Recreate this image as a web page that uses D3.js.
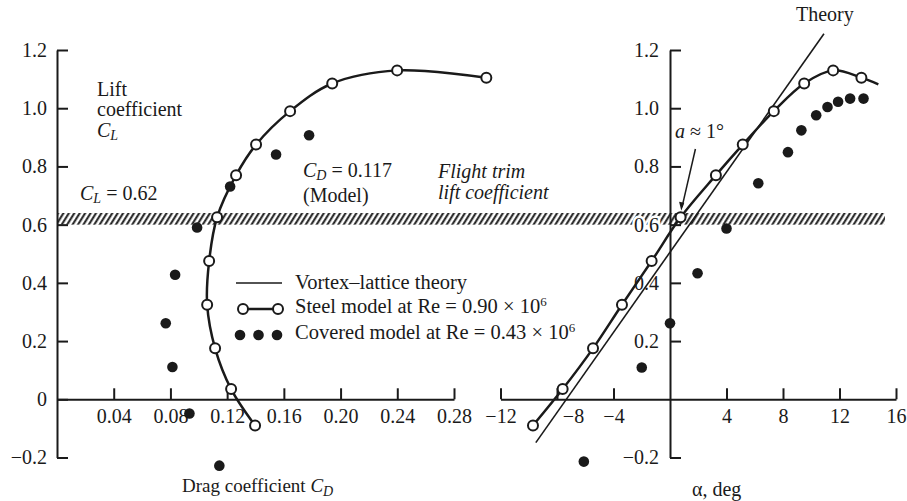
<!DOCTYPE html>
<html lang="en">
<head>
<meta charset="UTF-8">
<title>Lift and drag coefficients</title>
<script src="https://cdn.jsdelivr.net/npm/d3@7"></script>
<style>
  body { margin: 0; background: #fff; }
  svg text { font-family: "Liberation Serif", "DejaVu Serif", serif; fill: #1a1a1a; }
  .axis path, .axis line { stroke: #1a1a1a; stroke-width: 2; }
  .axis text { font-size: 20px; font-family: "Liberation Serif", serif; fill: #1a1a1a; }
</style>
</head>
<body>
<script>
// Steel model at Re = 0.90e6 (open circles)
var steelCL = [-0.09, 0.035, 0.175, 0.325, 0.475, 0.625, 0.77, 0.875, 0.99, 1.085, 1.13, 1.105];
var steelCD = [0.1397, 0.1228, 0.1115, 0.1059, 0.1073, 0.1129, 0.1263, 0.1404, 0.1644, 0.1941, 0.2399, 0.3028];
var steelAlpha = [-9.7, -7.6, -5.45, -3.4, -1.3, 0.75, 3.25, 5.15, 7.35, 9.5, 11.55, 13.55];
// curve continues a little past the last measured point (right panel)
var steelTail = [14.75, 1.082];

// Covered model at Re = 0.43e6 (filled dots)
var coverCD = [0.1145, 0.0934, 0.0814, 0.0767, 0.0833, 0.0988, 0.1221, 0.1545, 0.1778];
var coverCL_drag = [-0.228, -0.049, 0.111, 0.261, 0.428, 0.59, 0.731, 0.841, 0.907];
var coverAlpha = [-6.1, -2.0, 0, 1.95, 4.0, 6.25, 8.35, 9.3, 10.35, 11.15, 11.9, 12.75, 13.7];
var coverCL_alpha = [-0.214, 0.109, 0.261, 0.433, 0.587, 0.742, 0.849, 0.924, 0.976, 1.004, 1.022, 1.033, 1.033];

// Vortex-lattice theory line (right panel)
var theoryAlpha = [-9.5, 10.9];
var theoryCL = [-0.149, 1.256];

// axis ticks
var clTicks = [-0.2, 0, 0.2, 0.4, 0.6, 0.8, 1.0, 1.2];
var cdTicks = [0.04, 0.08, 0.12, 0.16, 0.20, 0.24, 0.28];
var alphaTicks = [-12, -8, -4, 4, 8, 12, 16];

// flight trim band
var trimBand = [0.60, 0.64];

var w = 907, h = 501;
var ink = "#1a1a1a";

var svg = d3.select("body").append("svg")
    .attr("width", w).attr("height", h);

// hatch pattern
svg.append("defs").append("pattern")
    .attr("id", "hatch")
    .attr("patternUnits", "userSpaceOnUse")
    .attr("width", 4.6).attr("height", 4.6)
    .attr("patternTransform", "rotate(32)")
    .append("line")
    .attr("x1", 1.2).attr("y1", 0).attr("x2", 1.2).attr("y2", 4.6)
    .attr("stroke", ink).attr("stroke-width", 2);

//Scales
var y = d3.scaleLinear().domain([-0.2, 1.2]).range([457.5, 50]);
var xCD = d3.scaleLinear().domain([0, 0.28]).range([57, 454]);
var xA = d3.scaleLinear().domain([-12, 16]).range([500.5, 896]);

function fmt(d) {
    return (d === 0 ? "0" : d.toFixed(1)).replace("-", "\u2212");
}

// hatch band, running across both panels
svg.append("rect")
    .attr("x", xCD(0))
    .attr("y", y(trimBand[1]))
    .attr("width", 885 - xCD(0))
    .attr("height", y(trimBand[0]) - y(trimBand[1]))
    .attr("fill", "url(#hatch)");

// ---------- left panel ----------
svg.append("g").attr("class", "axis")
    .attr("transform", "translate(" + xCD(0) + ",0)")
    .call(d3.axisLeft(y).tickValues(clTicks).tickSize(-11).tickSizeOuter(0).tickPadding(10)
        .tickFormat(fmt));

svg.append("g").attr("class", "axis")
    .attr("transform", "translate(0," + y(0) + ")")
    .call(d3.axisBottom(xCD).tickValues(cdTicks).tickSize(-11).tickSizeOuter(0).tickPadding(10)
        .tickFormat(d3.format(".2f")));

var lineCD = d3.line()
    .x(function(d) { return xCD(d[0]); })
    .y(function(d) { return y(d[1]); })
    .curve(d3.curveCatmullRom.alpha(0.5));

var steelDrag = steelCD.map(function(d, i) { return [d, steelCL[i]]; });
svg.append("path")
    .attr("d", lineCD(steelDrag))
    .attr("fill", "none").attr("stroke", ink).attr("stroke-width", 2.5);

svg.selectAll("circle.sd").data(steelDrag).enter().append("circle")
    .attr("class", "sd")
    .attr("cx", function(d) { return xCD(d[0]); })
    .attr("cy", function(d) { return y(d[1]); })
    .attr("r", 5)
    .attr("fill", "#fff").attr("stroke", ink).attr("stroke-width", 2);

svg.selectAll("circle.cd").data(coverCD).enter().append("circle")
    .attr("class", "cd")
    .attr("cx", function(d) { return xCD(d); })
    .attr("cy", function(d, i) { return y(coverCL_drag[i]); })
    .attr("r", 5.3)
    .attr("fill", ink);

// ---------- right panel ----------
var axR = svg.append("g").attr("class", "axis")
    .attr("transform", "translate(" + xA(0) + ",0)")
    .call(d3.axisLeft(y).tickValues(clTicks.filter(function(d) { return d !== 0; }))
        .tickSize(-11).tickSizeOuter(0).tickPadding(11)
        .tickFormat(fmt));
axR.selectAll("text")
    .attr("stroke", "#fff").attr("stroke-width", 5).attr("paint-order", "stroke");

var axA = svg.append("g").attr("class", "axis")
    .attr("transform", "translate(0," + y(0) + ")")
    .call(d3.axisBottom(xA).tickValues(alphaTicks).tickSize(-11).tickSizeOuter(0).tickPadding(10)
        .tickFormat(function(d) { return String(d).replace("-", "\u2212"); }));
axA.selectAll(".tick text").filter(function(d) { return d === -8; }).attr("dx", 16);

var lineA = d3.line()
    .x(function(d) { return xA(d[0]); })
    .y(function(d) { return y(d[1]); });

svg.append("path")
    .attr("d", lineA(theoryAlpha.map(function(d, i) { return [d, theoryCL[i]]; })))
    .attr("fill", "none").attr("stroke", ink).attr("stroke-width", 1.6);

var steelA = steelAlpha.map(function(d, i) { return [d, steelCL[i]]; });
svg.append("path")
    .attr("d", lineA.curve(d3.curveCatmullRom.alpha(0.5))(steelA.concat([steelTail])))
    .attr("fill", "none").attr("stroke", ink).attr("stroke-width", 2.5);

svg.selectAll("circle.sa").data(steelA).enter().append("circle")
    .attr("class", "sa")
    .attr("cx", function(d) { return xA(d[0]); })
    .attr("cy", function(d) { return y(d[1]); })
    .attr("r", 5)
    .attr("fill", "#fff").attr("stroke", ink).attr("stroke-width", 2);

svg.selectAll("circle.ca").data(coverAlpha).enter().append("circle")
    .attr("class", "ca")
    .attr("cx", function(d) { return xA(d); })
    .attr("cy", function(d, i) { return y(coverCL_alpha[i]); })
    .attr("r", 5.3)
    .attr("fill", ink);

// arrow for a ~ 1 deg
svg.append("line")
    .attr("x1", xA(1.8)).attr("y1", y(0.86))
    .attr("x2", xA(0.85)).attr("y2", y(0.66))
    .attr("stroke", ink).attr("stroke-width", 1.5);
var ax2 = xA(0.8), ay2 = y(0.648);
svg.append("path")
    .attr("d", "M" + ax2 + "," + ay2 + " l-2.2,-9 l5.2,1.2 z")
    .attr("fill", ink);

// ---------- text ----------
function txt(x, yy, size, italic) {
    return svg.append("text").attr("x", x).attr("y", yy)
        .attr("font-size", size + "px")
        .attr("font-style", italic ? "italic" : "normal");
}
function sub(t, main, s, rest) {
    t.append("tspan").attr("font-style", "italic").text(main);
    t.append("tspan").attr("font-style", "italic").attr("font-size", "14px").attr("dy", 3).text(s);
    if (rest) t.append("tspan").attr("dy", -3).text(rest);
}

txt(97, 96, 20).text("Lift");
txt(97, 116, 20).text("coefficient");
sub(txt(97, 137, 20), "C", "L");

sub(txt(80, 200, 20), "C", "L", " = 0.62");
sub(txt(303, 177, 20), "C", "D", " = 0.117");
txt(303, 202, 20).text("(Model)");
txt(438, 178, 20, true).text("Flight trim");
txt(438, 199, 20, true).text("lift coefficient");

var dragLbl = txt(182, 492, 19);
dragLbl.text("Drag coefficient ");
dragLbl.append("tspan").attr("font-style", "italic").text("C");
dragLbl.append("tspan").attr("font-style", "italic").attr("font-size", "14px").attr("dy", 4).text("D");

txt(692, 496, 20).text("\u03b1, deg");
txt(796, 21, 20).text("Theory");
var aLbl = txt(675, 138, 20);
aLbl.append("tspan").attr("font-style", "italic").text("a");
aLbl.append("tspan").text(" \u2248 1\u00b0");

// legend
var lg = svg.append("g");
lg.append("line").attr("x1", 236).attr("x2", 282).attr("y1", 283).attr("y2", 283)
    .attr("stroke", ink).attr("stroke-width", 1.6);
lg.append("line").attr("x1", 243).attr("x2", 278).attr("y1", 309).attr("y2", 309)
    .attr("stroke", ink).attr("stroke-width", 2.5);
lg.selectAll("circle.lo").data([243, 278]).enter().append("circle")
    .attr("class", "lo")
    .attr("cx", function(d) { return d; }).attr("cy", 309).attr("r", 5)
    .attr("fill", "#fff").attr("stroke", ink).attr("stroke-width", 2);
lg.selectAll("circle.lf").data([240, 258.5, 277]).enter().append("circle")
    .attr("class", "lf")
    .attr("cx", function(d) { return d; }).attr("cy", 335).attr("r", 5.3)
    .attr("fill", ink);

txt(295, 289, 20.5).text("Vortex\u2013lattice theory");
var l2 = txt(295, 313, 20.5);
l2.append("tspan").text("Steel model at Re = 0.90 \u00d7 10");
l2.append("tspan").attr("font-size", "13px").attr("dy", -7).text("6");
var l3 = txt(295, 339, 20.5);
l3.append("tspan").text("Covered model at Re = 0.43 \u00d7 10");
l3.append("tspan").attr("font-size", "13px").attr("dy", -7).text("6");
</script>
</body>
</html>
